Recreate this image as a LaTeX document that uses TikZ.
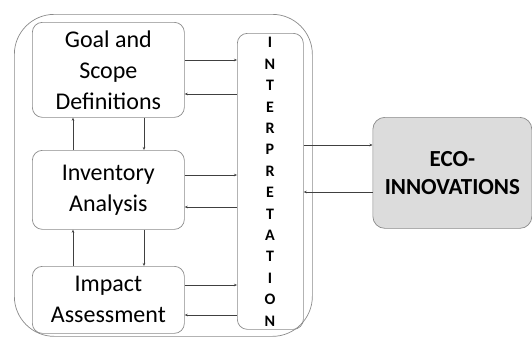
\documentclass[tikz,border=0pt]{standalone}
\usepackage{fontspec}
\setmainfont{Carlito}
\usetikzlibrary{arrows.meta}
\definecolor{boxline}{HTML}{8A8A8A}
\definecolor{ecofill}{HTML}{DCDCDC}
\begin{document}
\begin{tikzpicture}[x=1pt,y=-1pt,
  stagebox/.style={draw=boxline,line width=0.7pt,rounded corners=10pt,minimum width=152pt,align=center,font=\fontsize{24}{31}\selectfont,inner sep=0pt},
  conn/.style={draw=black!75,line width=0.5pt,-{Stealth[length=3pt,width=2.5pt]}}]
\useasboundingbox (0,0) rectangle (532,338);
\node[draw=boxline,line width=0.7pt,rounded corners=40pt,minimum width=298pt,minimum height=322pt,anchor=north west] (outer) at (14,14) {};
\node[stagebox,minimum height=95pt,anchor=north west] (goal) at (32,22) {Goal and\\Scope\\Definitions};
\node[stagebox,minimum height=79pt,anchor=north west] (inv) at (32,150) {Inventory\\Analysis};
\node[stagebox,minimum height=67pt,anchor=north west] (imp) at (32,266) {Impact\\Assessment};
\node[draw=boxline,line width=0.7pt,rounded corners=10pt,minimum width=66pt,minimum height=296pt,anchor=north west,inner sep=0pt] (interp) at (237,33) {};
\node[font=\fontsize{16}{21.4}\selectfont\bfseries,align=center,anchor=north] (interptext) at (270,34) {I\\N\\T\\E\\R\\P\\R\\E\\T\\A\\T\\I\\O\\N};
\node[draw=boxline,fill=ecofill,line width=0.7pt,rounded corners=12pt,minimum width=159pt,minimum height=111pt,anchor=north west,align=center,font=\fontsize{23}{27.5}\selectfont\bfseries,inner sep=0pt] (eco) at (372.5,117) {ECO-\\INNOVATIONS};
% horizontal connectors
\draw[conn] (goal.east |- 0,60) -- (interp.west |- 0,60);
\draw[conn] (interp.west |- 0,94) -- (goal.east |- 0,94);
\draw[conn] (inv.east |- 0,175) -- (interp.west |- 0,175);
\draw[conn] (interp.west |- 0,207) -- (inv.east |- 0,207);
\draw[conn] (imp.east |- 0,285) -- (interp.west |- 0,285);
\draw[conn] (interp.west |- 0,315) -- (imp.east |- 0,315);
\draw[conn] (interp.east |- 0,145) -- (eco.west |- 0,145);
\draw[conn] (eco.west |- 0,192) -- (interp.east |- 0,192);
% vertical connectors
\draw[conn] (inv.north -| 73,0) -- (goal.south -| 73,0);
\draw[conn] (goal.south -| 144,0) -- (inv.north -| 144,0);
\draw[conn] (imp.north -| 73,0) -- (inv.south -| 73,0);
\draw[conn] (inv.south -| 144,0) -- (imp.north -| 144,0);
\end{tikzpicture}
\end{document}
